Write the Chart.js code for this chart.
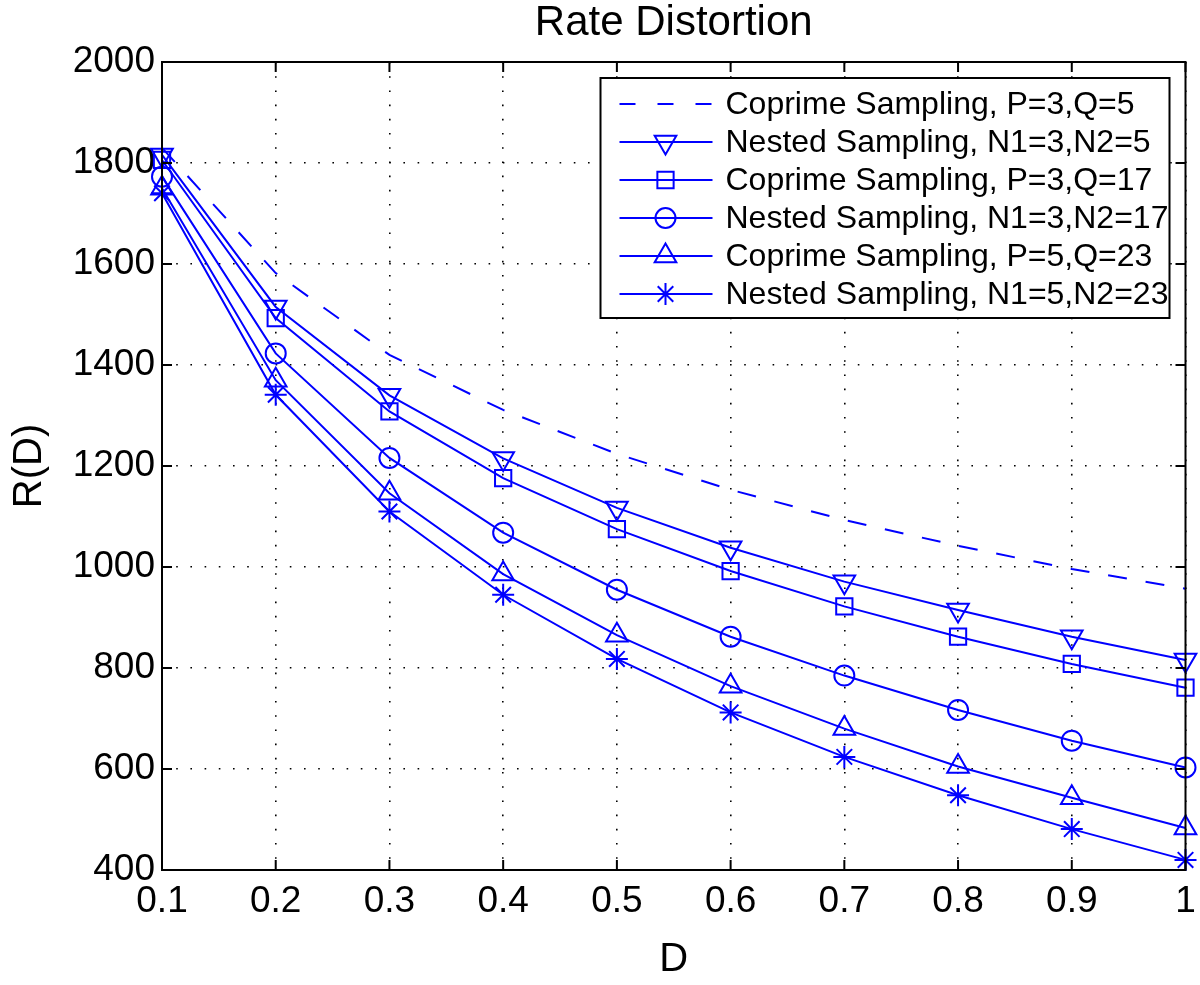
<!DOCTYPE html>
<html>
<head>
<meta charset="utf-8">
<script src="https://cdn.jsdelivr.net/npm/chart.js@4/dist/chart.umd.min.js"></script>
<style>
  html, body { margin: 0; padding: 0; background: #fff; }
  #wrap { width: 1200px; height: 985px; position: relative; }
</style>
</head>
<body>
<div id="wrap"><canvas id="rdChart"></canvas></div>
<script>
// values
const distortion = [0.1, 0.2, 0.3, 0.4, 0.5, 0.6, 0.7, 0.8, 0.9, 1.0];
const coprimeP3Q5 = [1830, 1582, 1420, 1311, 1224, 1153, 1093, 1042, 996, 957];
const nestedN3N5 = [1816, 1515, 1340, 1215, 1117, 1038, 971, 915, 862, 816];
const coprimeP3Q17 = [1806, 1493, 1308, 1176, 1075, 992, 922, 862, 808, 761];
const nestedN3N17 = [1773, 1423, 1216, 1068, 955, 862, 785, 717, 656, 603];
const coprimeP5Q23 = [1750, 1370, 1146, 986, 865, 764, 680, 605, 543, 483];
const nestedN5N23 = [1740, 1341, 1110, 945, 818, 712, 624, 548, 481, 420];
const xTicks = [0.1, 0.2, 0.3, 0.4, 0.5, 0.6, 0.7, 0.8, 0.9, 1];
const yTicks = [400, 600, 800, 1000, 1200, 1400, 1600, 1800, 2000];
const chartTitle = "Rate Distortion";

const FONT = "'Liberation Sans', Arial, Helvetica, sans-serif";
const BLUE = "#0000ff";

function pts(values) {
    return distortion.map((d, i) => ({ x: d, y: values[i] }));
}

function series(label, values, style, rotation, radius, dash) {
    return {
        label: label,
        data: pts(values),
        borderColor: BLUE,
        borderWidth: 2,
        borderDash: dash || [],
        pointStyle: style,
        rotation: rotation,
        radius: radius,
        pointRadius: radius,
        pointBorderWidth: 2,
        pointBorderColor: BLUE,
        pointBackgroundColor: "rgba(0,0,0,0)",
        tension: 0,
        fill: false,
        clip: false
    };
}

// box, inward ticks, title and the legend, drawn the way the original figure has them
const framePlugin = {
    id: "frame",
    afterDatasetsDraw(chart) {
        const ctx = chart.ctx;
        const a = chart.chartArea;
        const xs = chart.scales.x, ys = chart.scales.y;
        ctx.save();
        ctx.strokeStyle = "#000";
        ctx.lineWidth = 2;
        ctx.setLineDash([]);
        ctx.strokeRect(a.left, a.top, a.right - a.left, a.bottom - a.top);
        ctx.beginPath();
        const tl = 10;
        xTicks.forEach(v => {
            const px = xs.getPixelForValue(v);
            ctx.moveTo(px, a.bottom); ctx.lineTo(px, a.bottom - tl);
            ctx.moveTo(px, a.top); ctx.lineTo(px, a.top + tl);
        });
        yTicks.forEach(v => {
            const py = ys.getPixelForValue(v);
            ctx.moveTo(a.left, py); ctx.lineTo(a.left + tl, py);
            ctx.moveTo(a.right, py); ctx.lineTo(a.right - tl, py);
        });
        ctx.stroke();
        ctx.restore();
    },
    afterDraw(chart) {
        const ctx = chart.ctx;
        const a = chart.chartArea;
        const sets = chart.data.datasets;

        ctx.save();
        ctx.fillStyle = "#000";
        ctx.font = "42px " + FONT;
        ctx.textAlign = "center";
        ctx.textBaseline = "middle";
        ctx.fillText(chartTitle, (a.left + a.right) / 2, 23);

        const w = 569, rowH = 38, h = 240;
        const left = a.right - 16 - w, top = a.top + 16;
        ctx.fillStyle = "#fff";
        ctx.fillRect(left, top, w, h);
        ctx.strokeStyle = "#000";
        ctx.lineWidth = 2;
        ctx.strokeRect(left, top, w, h);
        ctx.font = "32px " + FONT;
        ctx.textBaseline = "middle";
        ctx.textAlign = "left";
        sets.forEach((ds, i) => {
            const y = top + 26 + i * rowH;
            ctx.strokeStyle = ds.borderColor;
            ctx.lineWidth = ds.borderWidth;
            ctx.setLineDash(ds.borderDash.length ? [16, 22] : []);
            ctx.beginPath();
            ctx.moveTo(left + 19, y);
            ctx.lineTo(left + 112, y);
            ctx.stroke();
            ctx.setLineDash([]);
            if (ds.pointStyle && Chart.helpers && Chart.helpers.drawPoint) {
                ctx.fillStyle = "rgba(0,0,0,0)";
                ctx.strokeStyle = ds.pointBorderColor;
                ctx.lineWidth = ds.pointBorderWidth;
                Chart.helpers.drawPoint(ctx, {
                    pointStyle: ds.pointStyle,
                    rotation: ds.rotation,
                    radius: ds.pointRadius,
                    borderWidth: ds.pointBorderWidth
                }, left + 65, y);
            }
            ctx.fillStyle = "#000";
            ctx.fillText(ds.label, left + 125, y + 1);
        });
        ctx.restore();
    }
};

document.addEventListener("DOMContentLoaded", () => {
    const canvas = document.getElementById("rdChart");

    const datasets = [
        series("Coprime Sampling, P=3,Q=5", coprimeP3Q5, false, 0, 0, [19, 19]),
        series("Nested Sampling, N1=3,N2=5", nestedN3N5, "triangle", 180, 12.5),
        series("Coprime Sampling, P=3,Q=17", coprimeP3Q17, "rect", 0, 11.5),
        series("Nested Sampling, N1=3,N2=17", nestedN3N17, "circle", 0, 10),
        series("Coprime Sampling, P=5,Q=23", coprimeP5Q23, "triangle", 0, 12.5),
        series("Nested Sampling, N1=5,N2=23", nestedN5N23, "star", 0, 11)
    ];

    new Chart(canvas, {
        type: "line",
        data: { datasets: datasets },
        options: {
            responsive: true,
            maintainAspectRatio: false,
            animation: false,
            layout: { padding: { left: 0, right: 12, top: 62, bottom: 0 } },
            plugins: {
                legend: { display: false },
                tooltip: { enabled: false },
                title: { display: false }
            },
            scales: {
                x: {
                    type: "linear",
                    min: 0.1,
                    max: 1,
                    afterBuildTicks: s => { s.ticks = xTicks.map(v => ({ value: v })); },
                    afterFit: s => { s.height = 115; s.paddingLeft = 0; s.paddingRight = 0; },
                    ticks: {
                        color: "#000",
                        padding: 10,
                        maxRotation: 0,
                        font: { family: FONT, size: 37 },
                        callback: v => String(Math.round(v * 10) / 10)
                    },
                    grid: { color: "#000", lineWidth: 1.6, drawTicks: false },
                    border: { display: false, dash: [1.6, 12.6] },
                    title: {
                        display: true,
                        text: "D",
                        color: "#000",
                        font: { family: FONT, size: 40, lineHeight: 1.2 },
                        padding: { top: 0, bottom: 1 }
                    }
                },
                y: {
                    min: 400,
                    max: 2000,
                    afterBuildTicks: s => { s.ticks = yTicks.map(v => ({ value: v })); },
                    afterFit: s => { s.width = 162; s.paddingTop = 0; s.paddingBottom = 0; },
                    ticks: {
                        color: "#000",
                        padding: 7,
                        font: { family: FONT, size: 37 },
                        callback: v => String(v)
                    },
                    grid: { color: "#000", lineWidth: 1.6, drawTicks: false },
                    border: { display: false, dash: [1.6, 12.6] },
                    title: {
                        display: true,
                        text: "R(D)",
                        color: "#000",
                        font: { family: FONT, size: 40, lineHeight: 1.2 },
                        padding: { top: 6, bottom: 0 }
                    }
                }
            }
        },
        plugins: [framePlugin]
    });
});
</script>
</body>
</html>
